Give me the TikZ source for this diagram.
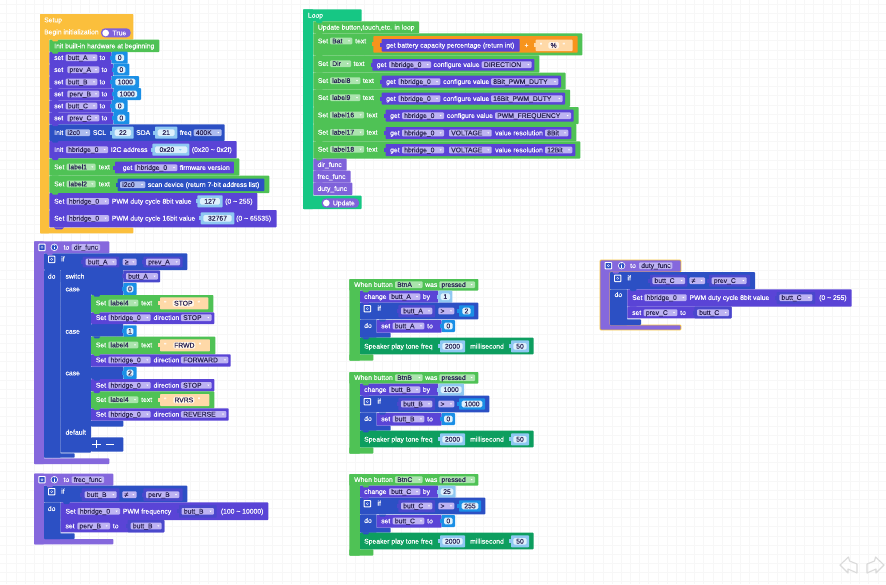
\documentclass[tikz,border=0pt]{standalone}
\usepackage{fontspec}
\setmainfont[FakeBold=0.25]{Liberation Sans}
\definecolor{cSetup}{HTML}{FBBF3C}
\definecolor{cLoop}{HTML}{16C784}
\definecolor{cGreen}{HTML}{4FC255}
\definecolor{cPurple}{HTML}{5A44D6}
\definecolor{cBlue}{HTML}{2C50C4}
\definecolor{cCmp}{HTML}{4A48CC}
\definecolor{cProc}{HTML}{8568DD}
\definecolor{cCall}{HTML}{7F62DA}
\definecolor{cStr}{HTML}{FFD9A8}
\definecolor{cPill}{HTML}{FFF5E6}
\definecolor{cOr}{HTML}{F7941D}
\definecolor{cSpk}{HTML}{0D9E5F}
\definecolor{cNum}{HTML}{1A8FE6}
\definecolor{cNumL}{HTML}{8FC8F2}
\definecolor{cIn}{HTML}{DDF0FC}
\definecolor{cDp}{HTML}{BDB3F2}
\definecolor{cDg}{HTML}{ABE4AE}
\definecolor{cDb}{HTML}{ABBAEE}
\definecolor{cTxt}{HTML}{2B2456}
\definecolor{cSel}{HTML}{F6C23A}
\definecolor{cGrid}{HTML}{F7F7F7}
\definecolor{cArrow}{HTML}{DADADA}
\newcounter{tn}
\newcommand\prevc{cPurple}
\tikzset{
  wtext/.style={text=white,font=\fontsize{6.8}{8}\selectfont,inner sep=0pt,anchor=base west,yshift=-2.3pt},
  dtext/.style={text=cTxt,font=\fontsize{6.8}{8}\selectfont,inner sep=0pt,anchor=base west,yshift=-2.3pt},
  ctext/.style={text=cTxt,font=\fontsize{6.8}{8}\selectfont,inner sep=0pt,anchor=base,yshift=-2.3pt},
  zoomed/.style={x=0.33333pt,y=-0.33333pt}
}
% plain block
\newcommand\Rb[5]{\fill[#1,rounded corners=0.8pt] (#2,#3) rectangle (#4,#5);}
% stacked row with its parent's tab
\newcommand\Rw[5]{\fill[#1,rounded corners=0.8pt] (#2,#3) rectangle (#4,#5);
  \fill[\prevc] ($(#2,#3)+(7,-1)$) -- ($(#2,#3)+(11,5)$) -- ($(#2,#3)+(24,5)$) -- ($(#2,#3)+(28,-1)$) -- cycle;
  \gdef\prevc{#1}}
% value block with left plug
\newcommand\Vb[5]{\fill[#1,rounded corners=0.8pt] (#2,#3) rectangle (#4,#5);
  \fill[#1] ($(#2,#3)!0.5!(#2,#5)+(-5,-6)$) rectangle ($(#2,#3)!0.5!(#2,#5)+(1,6)$);}
\newcommand\Tx[3]{\stepcounter{tn}\node[wtext] (t\arabic{tn}) at (#1,#2) {#3};}
\newcommand\Dd[5]{\fill[#1,rounded corners=1pt] (#2,#4-10) rectangle (#3,#4+10);
  \stepcounter{tn}\node[dtext] (t\arabic{tn}) at (#2+6,#4) {#5};
  \fill[white] (#3-13,#4-2) -- (#3-7,#4-2) -- (#3-10,#4+2) -- cycle;}
\newcommand\Dp[4]{\Dd{cDp}{#1}{#2}{#3}{#4}}
\newcommand\Dg[4]{\Dd{cDg}{#1}{#2}{#3}{#4}}
\newcommand\Db[4]{\Dd{cDb}{#1}{#2}{#3}{#4}}
% number block: colour, block x1,x2, inner x1, centre y, half height, text
\newcommand\Nm[7]{\Vb{#1}{#2}{#5-#6}{#3}{#5+#6}
  \fill[cIn,rounded corners=1.5pt] (#4,#5-10) rectangle ({#3-(#4-#2)},#5+10);
  \stepcounter{tn}\node[ctext] (t\arabic{tn}) at ({(#4+#3-(#4-#2))/2},#5) {#7};}
\newcommand\Gear[2]{\fill[white,rounded corners=0.8pt] (#1-11,#2-11) rectangle (#1+11,#2+11);
  \fill[cBlue,rounded corners=0.5pt] (#1-8,#2-8) rectangle (#1+8,#2+8);
  \fill[white] (#1,#2) circle (4);\fill[cBlue] (#1,#2) circle (2);}
\newcommand\Info[2]{\fill[white] (#1,#2) circle (11);\fill[cBlue] (#1,#2) circle (8.5);
  \fill[white] (#1-1.5,#2-2) rectangle (#1+1.5,#2+6);\fill[white] (#1,#2-5) circle (1.6);}
\newcommand\Str[7]{% x1 x2 pillx1 pillx2 y halfh text
  \Vb{cStr}{#1}{#5-#6}{#2}{#5+#6}
  \stepcounter{tn}\node[wtext] (t\arabic{tn}) at (#1+12,#5) {“};
  \fill[cPill,rounded corners=1.5pt] (#3,#5-10) rectangle (#4,#5+10);
  \stepcounter{tn}\node[ctext] (t\arabic{tn}) at ({(#3+#4)/2},#5) {#7};
  \stepcounter{tn}\node[wtext] (t\arabic{tn}) at (#4+10,#5) {”};}
% button group: button, variable, by value, by block right, compare value, compare block right, compare inner left, if right
\newcommand\BtnG[8]{%
  \gdef\prevc{cGreen}
  \Rb{cGreen}{13}{27}{400}{62}\Rb{cGreen}{13}{27}{45}{272}\Rb{cGreen}{13}{253}{85}{272}
  \Tx{27}{44}{When button}\Dg{150}{233}{44}{#1}\Tx{240}{44}{was}\Dg{283}{390}{44}{pressed}
  \Rw{cPurple}{45}{62}{280}{98}
  \Tx{57}{80}{change}\Dp{132}{226}{80}{#2}\Tx{233}{80}{by}
  \Nm{cNumL}{280}{#4}{287}{80}{18}{#3}
  \Rb{cBlue}{45}{148}{95}{203}\Rb{cBlue}{45}{188}{137}{203}
  \Rw{cBlue}{45}{98}{#8}{148}
  \Gear{67}{116}\Tx{97}{115}{if}
  \Vb{cCmp}{160}{105}{270}{142}
  \Dp{168}{262}{123}{#2}\Dp{280}{328}{123}{>}
  \Nm{cNum}{342}{#6}{#7}{123}{17}{#5}
  \Tx{57}{167}{do}
  \gdef\prevc{cBlue}
  \Rw{cPurple}{95}{150}{290}{188}
  \Tx{108}{168}{set}\Dp{143}{238}{168}{#2}\Tx{246}{168}{to}
  \Nm{cNum}{290}{330}{297}{168}{18}{0}
  \gdef\prevc{cBlue}
  \Rw{cSpk}{45}{203}{566}{253}
  \Tx{57}{229}{Speaker play tone freq}
  \Nm{cNumL}{285}{360}{292}{229}{18}{2000}
  \Tx{375}{229}{millisecond}
  \Nm{cNumL}{498}{552}{505}{229}{18}{50}
}
\usetikzlibrary{calc}
\begin{document}
\begin{tikzpicture}[x=1pt,y=-1pt]
\useasboundingbox (0,0) rectangle (886,584);
\fill[white] (0,0) rectangle (886,584);
\foreach \i in {0,...,96}{\draw[cGrid,line width=0.5pt] ({6.7+\i*9.17},0) -- ({6.7+\i*9.17},584);}
\foreach \i in {0,...,63}{\draw[cGrid,line width=0.5pt] (0,{4+\i*9.17}) -- (886,{4+\i*9.17});}

%%%%% Setup
\begin{scope}[shift={(30pt,-5pt)},zoomed]
\gdef\prevc{cSetup}
\Rb{cSetup}{30}{27}{310}{104}\Rb{cSetup}{30}{27}{58}{685}\Rb{cSetup}{30}{668}{310}{685}
\Tx{42}{45}{Setup}\Tx{42}{81}{Begin initialization}
\fill[cCall,rounded corners=4pt] (213,70) rectangle (302,97);
\fill[white] (227,84) circle (10);\Tx{247}{84}{True}
\Rw{cGreen}{58}{104}{388}{141}\Tx{72}{123}{Init built-in hardware at beginning}
\Rw{cPurple}{58}{141}{245}{177}\Tx{72}{158}{set}\Dp{107}{202}{158}{butt\_A}\Tx{208}{158}{to}\Nm{cNum}{245}{293}{256}{158}{18}{0}
\Rw{cPurple}{58}{177}{250}{213}\Tx{72}{194}{set}\Dp{112}{208}{194}{prev\_A}\Tx{214}{194}{to}\Nm{cNum}{250}{298}{262}{194}{18}{0}
\Rw{cPurple}{58}{213}{245}{250}\Tx{72}{231}{set}\Dp{107}{202}{231}{butt\_B}\Tx{208}{231}{to}\Nm{cNum}{245}{327}{256}{231}{18}{1000}
\Rw{cPurple}{58}{250}{250}{286}\Tx{72}{267}{set}\Dp{112}{208}{267}{perv\_B}\Tx{214}{267}{to}\Nm{cNum}{250}{333}{262}{267}{18}{1000}
\Rw{cPurple}{58}{286}{245}{322}\Tx{72}{303}{set}\Dp{107}{202}{303}{butt\_C}\Tx{208}{303}{to}\Nm{cNum}{245}{293}{256}{303}{18}{0}
\Rw{cPurple}{58}{322}{250}{358}\Tx{72}{339}{set}\Dp{112}{208}{339}{prev\_C}\Tx{214}{339}{to}\Nm{cNum}{250}{298}{262}{339}{18}{0}
\Rw{cBlue}{58}{358}{584}{408}\Tx{72}{383}{Init}\Db{106}{180}{383}{i2c0}\Tx{188}{383}{SCL}
\Nm{cNumL}{246}{311}{254}{383}{18}{22}\Tx{318}{383}{SDA}\Nm{cNumL}{375}{442}{383}{383}{18}{21}\Tx{449}{383}{freq}\Db{491}{575}{383}{400K}
\Rw{cPurple}{58}{408}{620}{460}\Tx{72}{434}{Init}\Dp{108}{234}{434}{hbridge\_0}\Tx{242}{434}{I2C address}
\Vb{cNumL}{367}{416}{478}{452}\fill[cIn,rounded corners=1.5pt] (375,424) rectangle (472,444);
\stepcounter{tn}\node[dtext] (t\arabic{tn}) at (388,434) {0x20};\fill[cNumL] (447,432) -- (455,432) -- (451,437) -- cycle;
\Tx{485}{434}{(0x20 \textasciitilde{} 0x2f)}
\Rw{cGreen}{58}{460}{628}{512}\Tx{72}{486}{Set}\Dg{110}{197}{486}{label1}\Tx{206}{486}{text}
\Vb{cPurple}{255}{470}{612}{505}\Tx{278}{488}{get}\Dp{314}{442}{488}{hbridge\_0}\Tx{449}{488}{firmware version}
\Rw{cGreen}{58}{512}{718}{564}\Tx{72}{537}{Set}\Dg{110}{197}{537}{label2}\Tx{206}{537}{text}
\Vb{cBlue}{263}{521}{703}{558}\Db{270}{346}{539}{i2c0}\Tx{353}{539}{scan device (return 7-bit address list)}
\Rw{cPurple}{58}{564}{682}{615}\Tx{72}{589}{Set}\Dp{110}{237}{589}{hbridge\_0}\Tx{245}{589}{PWM duty cycle 8bit value}
\Nm{cNumL}{502}{578}{510}{589}{18}{127}\Tx{585}{589}{(0 \textasciitilde{} 255)}
\Rw{cPurple}{58}{615}{740}{667}\Tx{72}{640}{Set}\Dp{110}{237}{640}{hbridge\_0}\Tx{245}{640}{PWM duty cycle 16bit value}
\Nm{cNumL}{512}{613}{520}{640}{18}{32767}\Tx{618}{640}{(0 \textasciitilde{} 65535)}
\fill[cPurple] (72,667) -- (78,673) -- (96,673) -- (102,667) -- cycle;
\end{scope}

%%%%% Loop
\begin{scope}[shift={(295pt,-5pt)},zoomed]
\gdef\prevc{cLoop}
\Rb{cLoop}{24}{13}{200}{49}\Rb{cLoop}{24}{13}{55}{612}\Rb{cLoop}{24}{572}{200}{612}
\Tx{38}{31}{Loop}
\Rw{cGreen}{55}{49}{372}{85}\Tx{68}{67}{Update button,touch,etc. in loop}
\Rw{cGreen}{55}{85}{862}{151}\Tx{68}{108}{Set}\Dg{105}{172}{108}{Bat}\Tx{180}{108}{text}
\Vb{cOr}{235}{93}{848}{143}
\Vb{cPurple}{260}{102}{674}{140}\Tx{273}{121}{get battery capacity percentage (return int)}
\Tx{688}{121}{+}
\Str{722}{833}{760}{792}{121}{17}{\%}
\Rw{cGreen}{55}{151}{733}{203}\Tx{68}{176}{Set}\Dg{105}{168}{176}{Dir}\Tx{175}{176}{text}
\Vb{cPurple}{232}{162}{718}{197}\Tx{245}{179}{get}\Dp{282}{408}{179}{hbridge\_0}\Tx{415}{179}{configure value}\Dp{560}{710}{179}{DIRECTION}
\Rw{cGreen}{55}{203}{812}{254}\Tx{68}{227}{Set}\Dg{105}{196}{227}{label8}\Tx{203}{227}{text}
\Vb{cPurple}{260}{212}{798}{248}\Tx{273}{230}{get}\Dp{310}{436}{230}{hbridge\_0}\Tx{444}{230}{configure value}\Dp{588}{790}{230}{8Bit\_PWM\_DUTY}
\Rw{cGreen}{55}{254}{825}{306}\Tx{68}{278}{Set}\Dg{105}{196}{278}{label9}\Tx{203}{278}{text}
\Vb{cPurple}{260}{263}{810}{299}\Tx{273}{281}{get}\Dp{310}{436}{281}{hbridge\_0}\Tx{444}{281}{configure value}\Dp{588}{803}{281}{16Bit\_PWM\_DUTY}
\Rw{cGreen}{55}{306}{851}{357}\Tx{68}{330}{Set}\Dg{105}{207}{330}{label16}\Tx{214}{330}{text}
\Vb{cPurple}{272}{314}{836}{350}\Tx{285}{332}{get}\Dp{321}{447}{332}{hbridge\_0}\Tx{455}{332}{configure value}\Dp{600}{828}{332}{PWM\_FREQUENCY}
\Rw{cGreen}{55}{357}{844}{409}\Tx{68}{382}{Set}\Dg{105}{207}{382}{label17}\Tx{214}{382}{text}
\Vb{cPurple}{272}{366}{829}{402}\Tx{285}{384}{get}\Dp{321}{447}{384}{hbridge\_0}\Dp{462}{590}{384}{VOLTAGE}\Tx{600}{384}{value resolution}\Dp{750}{820}{384}{8Bit}
\Rw{cGreen}{55}{409}{856}{461}\Tx{68}{433}{Set}\Dg{105}{207}{433}{label18}\Tx{214}{433}{text}
\Vb{cPurple}{272}{417}{841}{453}\Tx{285}{435}{get}\Dp{321}{447}{435}{hbridge\_0}\Dp{462}{590}{435}{VOLTAGE}\Tx{600}{435}{value resolution}\Dp{750}{832}{435}{12Bit}
\Rw{cCall}{55}{461}{155}{497}\Tx{67}{479}{dir\_func}
\Rw{cCall}{55}{497}{167}{533}\Tx{67}{515}{frec\_func}
\Rw{cCall}{55}{533}{172}{570}\Tx{67}{551}{duty\_func}
\fill[cCall,rounded corners=4pt] (80,580) rectangle (192,608);
\fill[white] (94,594) circle (10);\Tx{113}{594}{Update}
\end{scope}

%%%%% dir_func
\begin{scope}[shift={(30pt,-235pt)},zoomed]
\gdef\prevc{cProc}
\Rb{cProc}{12}{19}{238}{55}\Rb{cProc}{12}{19}{42}{687}\Rb{cProc}{12}{670}{238}{687}
\Gear{36}{37}\Info{73}{37}\Tx{100}{37}{to}\Dd{cDp}{125}{210}{37}{dir\_func}
\Rb{cBlue}{42}{105}{92}{668}\Rb{cBlue}{42}{655}{134}{668}
\Rw{cBlue}{42}{55}{472}{105}\Gear{65}{73}\Tx{93}{72}{if}
\Vb{cCmp}{158}{65}{268}{97}\Dp{167}{260}{81}{butt\_A}\Dp{278}{320}{81}{≥}
\Vb{cCmp}{340}{65}{458}{97}\Dp{348}{450}{81}{prev\_A}
\Tx{53}{124}{do}
\gdef\prevc{cBlue}
\Rb{cBlue}{92}{105}{183}{653}
\Rb{cBlue}{183}{105}{280}{180}\Rb{cBlue}{183}{267}{280}{305}\Rb{cBlue}{183}{395}{280}{432}\Rb{cBlue}{183}{557}{280}{575}\Rb{cBlue}{183}{607}{280}{650}
\Rw{cBlue}{92}{105}{280}{143}
\Tx{106}{124}{switch}\Vb{cCmp}{280}{106}{390}{142}\Dp{288}{384}{124}{butt\_A}
\Tx{106}{162}{case}\Nm{cNum}{280}{320}{290}{162}{18}{0}
\gdef\prevc{cBlue}
\Rw{cGreen}{183}{180}{550}{232}\Tx{197}{204}{Set}\Dg{235}{325}{204}{label4}\Tx{333}{204}{text}\Str{390}{535}{428}{492}{205}{18}{STOP}
\Rw{cPurple}{183}{232}{553}{267}\Tx{197}{248}{Set}\Dp{235}{362}{248}{hbridge\_0}\Tx{370}{248}{direction}\Dp{453}{545}{248}{STOP}
\Tx{106}{289}{case}\Nm{cNum}{280}{320}{290}{289}{18}{1}
\gdef\prevc{cBlue}
\Rw{cGreen}{183}{305}{556}{358}\Tx{197}{330}{Set}\Dg{235}{325}{330}{label4}\Tx{333}{330}{text}\Str{390}{540}{430}{496}{331}{18}{FRWD}
\Rw{cPurple}{183}{358}{602}{395}\Tx{197}{375}{Set}\Dp{235}{362}{375}{hbridge\_0}\Tx{370}{375}{direction}\Dp{453}{595}{375}{FORWARD}
\Tx{106}{414}{case}\Nm{cNum}{280}{320}{290}{414}{18}{2}
\gdef\prevc{cBlue}
\Rw{cPurple}{183}{432}{553}{469}\Tx{197}{451}{Set}\Dp{235}{362}{451}{hbridge\_0}\Tx{370}{451}{direction}\Dp{453}{545}{451}{STOP}
\Rw{cGreen}{183}{469}{553}{520}\Tx{197}{494}{Set}\Dg{235}{325}{494}{label4}\Tx{333}{494}{text}\Str{390}{538}{430}{493}{495}{18}{RVRS}
\Rw{cPurple}{183}{520}{596}{557}\Tx{197}{538}{Set}\Dp{235}{362}{538}{hbridge\_0}\Tx{370}{538}{direction}\Dp{453}{589}{538}{REVERSE}
\Tx{106}{592}{default}
\draw[white,line width=1.1pt] (186,628) -- (212,628) (199,616) -- (199,640) (228,628) -- (252,628);
\end{scope}

%%%%% frec_func
\begin{scope}[shift={(30pt,-465pt)},zoomed]
\gdef\prevc{cProc}
\Rb{cProc}{12}{26}{250}{62}\Rb{cProc}{12}{26}{42}{238}\Rb{cProc}{12}{222}{250}{238}
\Gear{36}{44}\Info{73}{44}\Tx{100}{44}{to}\Dd{cDp}{125}{222}{44}{frec\_func}
\Rb{cBlue}{42}{112}{92}{222}\Rb{cBlue}{42}{205}{134}{222}
\Rw{cBlue}{42}{62}{472}{112}\Gear{65}{80}\Tx{93}{79}{if}
\Vb{cCmp}{155}{70}{268}{108}\Dp{164}{260}{89}{butt\_B}\Dp{277}{320}{89}{≠}
\Vb{cCmp}{340}{70}{458}{108}\Dp{348}{448}{89}{perv\_B}
\Tx{53}{131}{do}
\gdef\prevc{cBlue}
\Rw{cPurple}{92}{112}{715}{165}\Tx{106}{139}{Set}\Dp{143}{270}{139}{hbridge\_0}\Tx{278}{139}{PWM frequency}
\Vb{cCmp}{447}{120}{560}{158}\Dp{455}{552}{139}{butt\_B}\Tx{572}{139}{(100 \textasciitilde{} 10000)}
\Rw{cPurple}{92}{165}{403}{202}\Tx{106}{183}{set}\Dp{142}{240}{183}{perv\_B}\Tx{248}{183}{to}
\Vb{cCmp}{293}{165}{403}{202}\Dp{302}{395}{183}{butt\_B}
\end{scope}

%%%%% Button groups
\begin{scope}[shift={(345pt,-270pt)},zoomed]
\BtnG{BtnA}{butt\_A}{1}{322}{2}{387}{352}{400}
\end{scope}
\begin{scope}[shift={(345pt,-363pt)},zoomed]
\BtnG{BtnB}{butt\_B}{1000}{357}{1000}{420}{350}{433}
\end{scope}
\begin{scope}[shift={(345pt,-465pt)},zoomed]
\BtnG{BtnC}{butt\_C}{25}{332}{255}{408}{350}{421}
\end{scope}

%%%%% duty_func
\begin{scope}[shift={(595pt,-250pt)},zoomed]
\gdef\prevc{cProc}
\fill[cProc] (15,30) rectangle (258,66);\fill[cProc] (15,30) rectangle (45,240);\fill[cProc] (15,225) rectangle (258,240);
\draw[cSel,line width=0.9pt,rounded corners=1pt,line join=round] (15,30) -- (258,30) -- (258,66) -- (45,66) -- (45,225) -- (258,225) -- (258,240) -- (15,240) -- cycle;
\Gear{40}{47}\Info{80}{47}\Tx{105}{47}{to}\Dd{cDp}{132}{232}{47}{duty\_func}
\Rb{cBlue}{45}{118}{97}{225}\Rb{cBlue}{45}{208}{138}{225}
\Rw{cBlue}{45}{66}{480}{118}\Gear{68}{85}\Tx{97}{84}{if}
\Vb{cCmp}{165}{74}{277}{110}\Dp{172}{270}{92}{butt\_C}\Dp{283}{330}{92}{≠}
\Vb{cCmp}{342}{74}{465}{110}\Dp{350}{455}{92}{prev\_C}
\Tx{58}{134}{do}
\gdef\prevc{cBlue}
\Rw{cPurple}{97}{118}{770}{170}\Tx{111}{143}{Set}\Dp{148}{275}{143}{hbridge\_0}\Tx{283}{143}{PWM duty cycle 8bit value}
\Vb{cCmp}{545}{126}{660}{162}\Dp{553}{652}{143}{butt\_C}\Tx{672}{143}{(0 \textasciitilde{} 255)}
\Rw{cPurple}{97}{170}{410}{205}\Tx{111}{188}{set}\Dp{146}{247}{188}{prev\_C}\Tx{255}{188}{to}
\Vb{cCmp}{298}{170}{410}{205}\Dp{306}{402}{188}{butt\_C}
\end{scope}

%%%%% undo / redo
\draw[cArrow,line width=1.1pt,line join=round] (840,565) -- (848.5,557) -- (849.5,561) -- (857,564) -- (857,573) -- (848,569) -- (848,573) -- cycle;
\draw[cArrow,line width=1.1pt,line join=round] (884,565) -- (875.5,557) -- (874.5,561) -- (867,564) -- (867,573) -- (876,569) -- (876,573) -- cycle;
\end{tikzpicture}
\end{document}
